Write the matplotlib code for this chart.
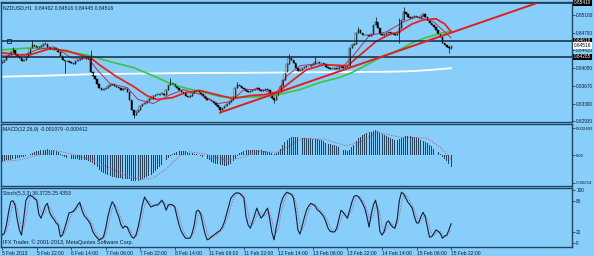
import matplotlib.pyplot as plt
import numpy as np
import pandas as pd

plt.rcParams['font.family'] = ['Liberation Sans', 'DejaVu Sans']

# --- price data (NZDUSD H1), one close per bar ---
closes = np.array([
    0.84181, 0.84222, 0.84306, 0.84326, 0.84389, 0.84431, 0.84347, 0.84306, 0.84264, 0.84202, 0.84222, 0.84285, 0.84347, 0.84472, 0.84535, 0.84514,
    0.84472, 0.84493, 0.84514, 0.84556, 0.84556, 0.84493, 0.84452, 0.84452, 0.84472, 0.84452, 0.84389, 0.84306, 0.84222, 0.84202, 0.84202, 0.84181,
    0.84160, 0.84139, 0.84202, 0.84222, 0.84243, 0.84264, 0.84264, 0.84243, 0.84285, 0.83972, 0.83889, 0.83826, 0.83722, 0.83639, 0.83597, 0.83618,
    0.83639, 0.83680, 0.83701, 0.83722, 0.83680, 0.83660, 0.83639, 0.83597, 0.83618, 0.83618, 0.83555, 0.83389, 0.83180, 0.83076, 0.83139, 0.83180,
    0.83263, 0.83305, 0.83326, 0.83368, 0.83409, 0.83409, 0.83472, 0.83493, 0.83493, 0.83514, 0.83514, 0.83493, 0.83597, 0.83701, 0.83743, 0.83722,
    0.83680, 0.83639, 0.83597, 0.83555, 0.83535, 0.83472, 0.83451, 0.83472, 0.83535, 0.83576, 0.83597, 0.83555, 0.83514, 0.83472, 0.83430, 0.83389,
    0.83389, 0.83368, 0.83326, 0.83284, 0.83243, 0.83180, 0.83222, 0.83263, 0.83305, 0.83347, 0.83389, 0.83451, 0.83639, 0.83701, 0.83680, 0.83639,
    0.83618, 0.83576, 0.83555, 0.83576, 0.83597, 0.83618, 0.83639, 0.83597, 0.83576, 0.83597, 0.83618, 0.83597, 0.83535, 0.83430, 0.83389, 0.83493,
    0.83555, 0.83680, 0.83805, 0.83972, 0.84139, 0.84264, 0.84222, 0.84160, 0.84056, 0.83993, 0.84014, 0.84056, 0.84076, 0.84097, 0.84097, 0.84118,
    0.84139, 0.84181, 0.84181, 0.84160, 0.84160, 0.84139, 0.84076, 0.84056, 0.84035, 0.84035, 0.84056, 0.84035, 0.84076, 0.84097, 0.84056, 0.84076,
    0.84097, 0.84472, 0.84535, 0.84556, 0.84785, 0.84847, 0.84785, 0.84743, 0.84743, 0.84743, 0.84722, 0.84764, 0.84952, 0.85014, 0.84889, 0.84764,
    0.84743, 0.84764, 0.84785, 0.84806, 0.84785, 0.84764, 0.84743, 0.84785, 0.84889, 0.85056, 0.85223, 0.85181, 0.85118, 0.85097, 0.85118, 0.85139,
    0.85118, 0.85097, 0.85139, 0.85181, 0.85118, 0.85056, 0.84993, 0.84952, 0.84910, 0.84847, 0.84764, 0.84702, 0.84577, 0.84535, 0.84493, 0.84462,
    0.84516,
])
first_open = 0.84160
# long wicks that stick out of the bodies
spike_highs = {5: 0.84493, 14: 0.84639, 20: 0.84598, 41: 0.84431, 78: 0.83847, 109: 0.83764,
               133: 0.84347, 145: 0.84285, 165: 0.84910, 173: 0.85118, 184: 0.85097, 186: 0.85327}
spike_lows = {29: 0.83951, 61: 0.82993, 101: 0.83118, 126: 0.83326, 184: 0.84577, 207: 0.84368, 208: 0.84445}

# moving averages (bar index, price)
white_ma_idx = [0, 20, 42, 80, 120, 150, 180, 190, 200, 208]
white_ma = [0.83868, 0.83889, 0.83920, 0.83941, 0.83951, 0.83962, 0.83972, 0.83983, 0.84014, 0.84045]
green_ma_idx = [0, 14, 22, 30, 41, 50, 61, 72, 79, 86, 92, 101, 107, 122, 128, 138, 147, 156, 162, 169, 176, 184, 190, 196, 204, 208]
green_ma = [0.84431, 0.84472, 0.84452, 0.84389, 0.84306, 0.84181, 0.84056, 0.83847, 0.83701, 0.83618, 0.83555, 0.83451, 0.83430,
            0.83451, 0.83493, 0.83597, 0.83743, 0.83847, 0.83951, 0.84118, 0.84285, 0.84431, 0.84577, 0.84681, 0.84785, 0.84816]
red_ma_idx = [0, 7, 13, 22, 30, 36, 41, 45, 53, 61, 67, 72, 79, 85, 92, 101, 107, 115, 122, 128, 135, 141, 149, 160, 166, 173,
              179, 184, 190, 195, 201, 205, 208]
red_ma = [0.84368, 0.84326, 0.84326, 0.84452, 0.84410, 0.84326, 0.84264, 0.84118, 0.83868, 0.83660, 0.83472, 0.83389, 0.83430,
          0.83535, 0.83576, 0.83472, 0.83409, 0.83472, 0.83493, 0.83555, 0.83805, 0.84014, 0.84118, 0.84097, 0.84326, 0.84598,
          0.84743, 0.84806, 0.84973, 0.85056, 0.85077, 0.84973, 0.84806]
fast_ma_idx = [0, 8, 16, 24, 32, 40, 44, 50, 58, 63, 70, 77, 84, 92, 100, 106, 112, 120, 127, 132, 138, 146, 158, 163, 170, 178,
               186, 192, 200, 205, 208]
fast_ma = [0.84306, 0.84285, 0.84431, 0.84493, 0.84264, 0.84243, 0.84014, 0.83722, 0.83639, 0.83389, 0.83305, 0.83472, 0.83597,
           0.83493, 0.83305, 0.83347, 0.83597, 0.83597, 0.83514, 0.83889, 0.84097, 0.84139, 0.84076, 0.84326, 0.84722, 0.84806,
           0.85014, 0.85118, 0.85014, 0.84806, 0.84681]

# objects drawn on the chart
trend_idx = [101, 249.6]
trend_price = [0.83118, 0.85437]
hlines = [0.85410, 0.84618, 0.84285]

# MACD(12,26,9) main values, one per bar
macd = np.array([
    -0.55, -0.55, -0.5, -0.5, -0.45, -0.4, -0.35, -0.3, -0.25, -0.2, -0.15, -0.1, 0.0, 0.1, 0.2, 0.3,
    0.35, 0.4, 0.45, 0.5, 0.5, 0.55, 0.5, 0.5, 0.45, 0.35, 0.25, 0.1, -0.05, -0.15, -0.25, -0.3,
    -0.35, -0.4, -0.4, -0.4, -0.45, -0.45, -0.5, -0.5, -0.55, -0.6, -0.7, -0.9, -1.1, -1.35, -1.55, -1.65,
    -1.7, -1.8, -1.9, -2.0, -2.05, -2.1, -2.1, -2.15, -2.2, -2.2, -2.2, -2.25, -2.35, -2.4, -2.4, -2.35,
    -2.3, -2.2, -2.1, -2.0, -1.9, -1.8, -1.65, -1.5, -1.3, -1.1, -0.95, -0.75, -0.5, -0.25, -0.05, 0.1,
    0.2, 0.3, 0.35, 0.4, 0.4, 0.35, 0.25, 0.2, 0.15, 0.1, 0.05, 0.0, -0.1, -0.2, -0.3, -0.4,
    -0.5, -0.6, -0.7, -0.8, -0.85, -0.9, -0.95, -1.0, -1.0, -0.95, -0.8, -0.55, -0.35, -0.1, 0.15, 0.3,
    0.4, 0.45, 0.5, 0.5, 0.5, 0.5, 0.5, 0.45, 0.45, 0.4, 0.35, 0.3, 0.25, 0.15, 0.1, 0.15,
    0.3, 0.6, 0.9, 1.2, 1.4, 1.55, 1.65, 1.7, 1.7, 1.65, 1.6, 1.6, 1.6, 1.55, 1.55, 1.55,
    1.5, 1.5, 1.45, 1.4, 1.35, 1.25, 1.15, 1.05, 1.0, 0.95, 0.9, 0.8, 0.7, 0.6, 0.5, 0.45,
    0.35, 0.45, 0.7, 0.9, 1.25, 1.55, 1.7, 1.85, 1.95, 2.05, 2.1, 2.15, 2.25, 2.3, 2.25, 2.1,
    1.95, 1.85, 1.75, 1.65, 1.55, 1.45, 1.35, 1.35, 1.45, 1.6, 1.7, 1.75, 1.75, 1.75, 1.7, 1.7,
    1.65, 1.55, 1.4, 1.3, 1.2, 1.1, 0.95, 0.8, 0.6, 0.45, 0.3, 0.1, -0.15, -0.35, -0.55, -0.8,
    -1.079,
]) / 1000
signal_idx = [0, 8, 17, 25, 30, 39, 50, 58, 64, 70, 76, 82, 87, 95, 104, 110, 119, 127, 133, 138, 140, 150, 159, 166, 174, 184, 197, 203, 208]
signal = np.array([-0.6, -0.45, 0.0, 0.4, 0.2, -0.3, -1.2, -1.9, -2.3, -2.1, -1.3, -0.1, 0.3, 0.05, -0.5, -0.3, 0.35, 0.25,
                   0.8, 1.45, 1.55, 1.45, 0.85, 1.2, 2.1, 1.65, 1.55, 0.7, -0.412]) / 1000

# Stochastic(5,3,3) %K, one per bar
stoch_k = np.array([
    15, 18, 34, 58, 78, 80, 72, 45, 25, 15, 45, 80, 88, 90, 88, 84,
    81, 55, 47, 58, 70, 75, 58, 50, 45, 38, 34, 12, 15, 28, 42, 57,
    58, 60, 65, 72, 77, 62, 52, 47, 42, 35, 22, 15, 10, 6, 8, 12,
    28, 50, 66, 78, 72, 60, 50, 35, 28, 32, 30, 20, 12, 9, 15, 30,
    50, 72, 87, 80, 74, 68, 70, 72, 72, 76, 81, 74, 62, 72, 73, 72,
    68, 50, 34, 22, 15, 9, 9, 9, 18, 34, 60, 62, 55, 35, 18, 6,
    8, 12, 15, 18, 21, 24, 30, 40, 55, 70, 85, 90, 94, 95, 94, 90,
    85, 50, 34, 28, 40, 53, 66, 55, 47, 52, 60, 66, 45, 20, 6, 30,
    50, 72, 85, 92, 96, 94, 92, 85, 60, 25, 17, 32, 48, 62, 70, 75,
    73, 70, 63, 60, 55, 50, 40, 28, 22, 21, 21, 28, 45, 62, 58, 52,
    47, 62, 77, 88, 90, 88, 82, 75, 66, 50, 30, 55, 72, 81, 62, 22,
    15, 22, 38, 42, 35, 30, 28, 45, 80, 96, 93, 85, 77, 72, 66, 50,
    38, 38, 50, 58, 50, 30, 11, 12, 18, 25, 22, 18, 9, 13, 15, 25,
    36.37,
])

date_labels = ['5 Feb 2013', '5 Feb 22:00', '6 Feb 14:00', '7 Feb 06:00', '7 Feb 22:00', '8 Feb 14:00',
               '11 Feb 06:00', '11 Feb 22:00', '12 Feb 14:00', '13 Feb 06:00', '13 Feb 22:00',
               '14 Feb 14:00', '15 Feb 06:00', '15 Feb 22:00']
price_ticks = [0.85160, 0.84790, 0.84420, 0.84050, 0.83670, 0.83300, 0.82930]

# --- candles ---
n = len(closes)
idx = np.arange(n)
opens = np.concatenate([[first_open], closes[:-1]])
highs = np.maximum(opens, closes)
lows = np.minimum(opens, closes)
for i, h in spike_highs.items():
    highs[i] = max(highs[i], h)
for i, l in spike_lows.items():
    lows[i] = min(lows[i], l)

BG = '#87cefa'
EDGE = '#234461'
TXT = '#0d1a2e'

fig = plt.figure(figsize=(5.94, 2.56), dpi=100, facecolor=BG)
ax_p = fig.add_axes([1 / 594, 1 - 121.5 / 256, 571 / 594, 119.5 / 256])
ax_m = fig.add_axes([1 / 594, 1 - 186 / 256, 571 / 594, 62.5 / 256])
ax_s = fig.add_axes([1 / 594, 1 - 247 / 256, 571 / 594, 59 / 256])

for ax in (ax_p, ax_m, ax_s):
    ax.set_facecolor(BG)
    ax.set_xlim(-0.5, 264)
    for sp in ax.spines.values():
        sp.set_color(EDGE)
        sp.set_linewidth(1.0)
    ax.yaxis.tick_right()
    ax.tick_params(axis='y', length=2, width=0.6, pad=1, colors=EDGE, labelsize=3.4, labelcolor=TXT)
    ax.tick_params(axis='x', length=0)
    ax.set_xticks([])

# main price panel
ax_p.set_ylim(0.8293, 0.8543)
ax_p.plot(white_ma_idx, white_ma, color='white', lw=1.3)
ax_p.plot(green_ma_idx, green_ma, color='#3cc43c', lw=1.2)
ax_p.plot(fast_ma_idx, fast_ma, color='#b0305a', lw=0.7)
ax_p.plot(red_ma_idx, red_ma, color='#e02424', lw=1.3)

ax_p.vlines(idx, lows, highs, color='black', lw=0.5)
bull = closes >= opens
body_h = np.maximum(np.abs(closes - opens), 0.00004)
ax_p.bar(idx, body_h, bottom=np.minimum(opens, closes), width=0.7,
         color=np.where(bull, '#e8f4fc', 'black'), edgecolor='black', linewidth=0.35)

for lvl in hlines:
    ax_p.axhline(lvl, color='#13283e', lw=1.1)
ax_p.plot([3], [hlines[1]], marker='s', ms=2.5, mfc='none', mec='#13283e', mew=0.6, clip_on=False)
ax_p.plot(trend_idx, trend_price, color='#dc2020', lw=1.4)

ax_p.set_yticks(price_ticks)
ax_p.set_yticklabels([f'{p:.5f}' for p in price_ticks])

# boxed price labels on the right scale
for lvl, fc, tc in [(hlines[0], 'black', 'white'), (hlines[1], 'black', 'white'),
                    (closes[-1], 'white', 'black'), (hlines[2], 'black', 'white')]:
    ax_p.text(1.003, lvl, f'{lvl:.5f}', transform=ax_p.get_yaxis_transform(), fontsize=3.4,
              color=tc, va='center', ha='left',
              bbox=dict(boxstyle='square,pad=0.15', fc=fc, ec='none'))

fig.text(3 / 594, 1 - 8 / 256, 'NZDUSD,H1  0.84462 0.84516 0.84445 0.84516', fontsize=3.7, color=TXT, va='center')

# MACD panel
ax_m.set_ylim(-0.00285, 0.0029)
ax_m.bar(idx, macd, width=0.45, color='#27425e')
ax_m.plot(signal_idx, signal, color='#b85a78', lw=0.6, ls=(0, (1.5, 1.5)))
ax_m.set_yticks([0.002483, 0.0, -0.00254])
ax_m.set_yticklabels(['0.002483', '0.00', '-0.00254'])
ax_m.tick_params(axis='y', labelsize=3.1)
fig.text(3 / 594, 1 - 129 / 256, 'MACD(12,26,9) -0.001079 -0.000412', fontsize=3.7, color=TXT, va='center')

# Stochastic panel
stoch_d = pd.Series(stoch_k).rolling(3, min_periods=1).mean().to_numpy()
ax_s.set_ylim(-7.5, 104)
ax_s.plot(idx, stoch_d, color='#b85a78', lw=0.6, ls=(0, (1.5, 1.5)))
ax_s.plot(idx, stoch_k, color='#0e1f3c', lw=0.8)
ax_s.set_yticks([100, 80, 20, 0])
ax_s.set_yticklabels(['100', '80', '20', '0'])
fig.text(3 / 594, 1 - 193 / 256, 'Stoch(5,3,3) 36.3725 25.4353', fontsize=3.7, color=TXT, va='center')
fig.text(3 / 594, 1 - 242 / 256, 'IFX Trader, \u00a9 2001-2013, MetaQuotes Software Corp.', fontsize=3.9, color=TXT, va='center')

# time scale under the bottom panel
ax_s.set_xticks(idx[::16])
ax_s.set_xticklabels(date_labels)
ax_s.tick_params(axis='x', length=2, width=0.6, pad=1, colors=EDGE, labelsize=3.6, labelcolor=TXT, direction='out')
for lab in ax_s.get_xticklabels():
    lab.set_horizontalalignment('left')

fig.savefig('out.png', dpi=100, facecolor=BG)
